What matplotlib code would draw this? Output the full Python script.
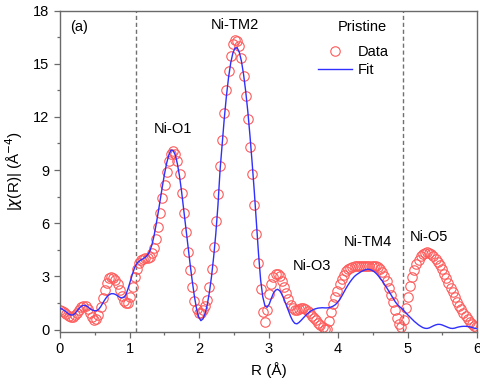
import numpy as np
import matplotlib
matplotlib.use("Agg")
import matplotlib.pyplot as plt
from matplotlib.ticker import MultipleLocator

plt.rcParams['font.family'] = ['Liberation Sans', 'DejaVu Sans']

# R grid step of the Fourier transform (Å)
dR = 0.0307
n_points = 196

data_chi = [
    1.10, 1.05, 0.97, 0.87, 0.78, 0.72, 0.72, 0.80, 0.95, 1.12,
    1.27, 1.35, 1.32, 1.18, 0.95, 0.70, 0.55, 0.58, 0.82, 1.25,
    1.75, 2.25, 2.65, 2.88, 2.97, 2.93, 2.78, 2.55, 2.25, 1.90,
    1.62, 1.47, 1.50, 1.85, 2.40, 2.95, 3.40, 3.75, 3.92, 4.00,
    4.02, 4.02, 4.10, 4.30, 4.60, 5.10, 5.80, 6.60, 7.40, 8.15,
    8.90, 9.50, 9.93, 10.08, 9.92, 9.50, 8.75, 7.70, 6.60, 5.50,
    4.40, 3.35, 2.40, 1.60, 1.15, 0.95, 0.95, 1.10, 1.30, 1.65,
    2.40, 3.40, 4.65, 6.10, 7.65, 9.20, 10.70, 12.20, 13.50, 14.60,
    15.45, 16.10, 16.35, 16.30, 16.00, 15.30, 14.30, 13.20, 11.85, 10.30,
    8.75, 7.00, 5.40, 3.75, 2.30, 1.00, 0.40, 1.10, 2.00, 2.55,
    2.95, 3.15, 3.15, 3.00, 2.75, 2.40, 2.05, 1.70, 1.40, 1.20,
    1.10, 1.10, 1.15, 1.20, 1.20, 1.15, 1.05, 0.92, 0.78, 0.65,
    0.52, 0.38, 0.25, 0.14, 0.05, 0.02, 0.50, 1.00, 1.45, 1.85,
    2.20, 2.55, 2.85, 3.10, 3.28, 3.40, 3.48, 3.53, 3.57, 3.59,
    3.60, 3.60, 3.60, 3.60, 3.60, 3.60, 3.60, 3.59, 3.56, 3.50,
    3.40, 3.25, 3.02, 2.72, 2.35, 1.95, 1.55, 1.10, 0.65, 0.30,
    0.12, 0.55, 1.20, 1.85, 2.45, 2.95, 3.35, 3.70, 3.95, 4.15,
    4.27, 4.33, 4.35, 4.33, 4.26, 4.15, 4.00, 3.82, 3.62, 3.40,
    3.15, 2.90, 2.63, 2.37, 2.10, 1.83, 1.58, 1.35, 1.13, 0.93,
    0.75, 0.58, 0.44, 0.32, 0.22, 0.15,
]

fit_chi = [
    1.20, 1.15, 1.07, 0.98, 0.88, 0.82, 0.82, 0.90, 1.05, 1.20,
    1.32, 1.37, 1.35, 1.28, 1.18, 1.10, 1.06, 1.06, 1.12, 1.28,
    1.48, 1.68, 1.85, 1.96, 2.02, 2.02, 1.98, 1.90, 1.82, 1.78,
    1.82, 2.00, 2.35, 2.75, 3.15, 3.50, 3.72, 3.85, 3.93, 4.00,
    4.08, 4.20, 4.40, 4.75, 5.25, 5.90, 6.60, 7.35, 8.10, 8.80,
    9.40, 9.85, 10.12, 10.10, 9.85, 9.35, 8.65, 7.75, 6.75, 5.70,
    4.65, 3.65, 2.70, 1.85, 1.15, 0.70, 0.50, 0.60, 0.90, 1.40,
    2.10, 3.00, 4.10, 5.40, 7.00, 9.00, 10.50, 11.95, 13.20, 14.25,
    15.05, 15.60, 15.88, 15.90, 15.65, 15.15, 14.40, 13.45, 12.30, 10.95,
    9.45, 7.85, 6.10, 4.30, 2.80, 1.85, 1.35, 1.25, 1.42, 1.75,
    2.05, 2.22, 2.27, 2.18, 1.98, 1.70, 1.38, 1.05, 0.75, 0.50,
    0.35, 0.32, 0.40, 0.52, 0.65, 0.78, 0.90, 1.00, 1.08, 1.14,
    1.18, 1.21, 1.22, 1.23, 1.22, 1.22, 1.23, 1.27, 1.32, 1.40,
    1.52, 1.68, 1.88, 2.10, 2.32, 2.52, 2.70, 2.86, 3.00, 3.10,
    3.18, 3.26, 3.32, 3.37, 3.40, 3.39, 3.35, 3.28, 3.18, 3.05,
    2.90, 2.74, 2.56, 2.37, 2.18, 1.98, 1.78, 1.58, 1.42, 1.30,
    1.20, 1.08, 0.95, 0.82, 0.70, 0.58, 0.46, 0.36, 0.26, 0.18,
    0.11, 0.07, 0.06, 0.09, 0.15, 0.21, 0.26, 0.29, 0.29, 0.26,
    0.21, 0.16, 0.11, 0.07, 0.06, 0.08, 0.12, 0.15, 0.17, 0.18,
    0.18, 0.17, 0.15, 0.12, 0.08, 0.05,
]

shell_bounds = [1.10, 4.93]
shell_labels = ["Ni-O1", "Ni-TM2", "Ni-O3", "Ni-TM4", "Ni-O5"]
shell_label_pos = [(1.63, 11.3), (2.51, 17.2), (3.62, 3.6), (4.43, 4.95), (5.31, 5.2)]

R = np.arange(n_points) * dR

fig = plt.figure(figsize=(4.8, 3.89), dpi=100)
ax = fig.add_axes([0.125, 0.147, 0.869, 0.826])

spine_col = '#6a6a6a'
for b in shell_bounds:
    ax.axvline(b, color='#707070', lw=1.0, ls=(0, (3, 2)), zorder=1)

ax.plot(R, data_chi, ls='none', marker='o', ms=6.8, mfc='none',
        mec='#ff5a5a', mew=0.8, label='Data', zorder=2)
ax.plot(R, fit_chi, color='#2f2fff', lw=1.0, label='Fit', zorder=3)

ax.set_xlim(0, 6)
ax.set_ylim(-0.13, 18)
ax.xaxis.set_major_locator(MultipleLocator(1))
ax.xaxis.set_minor_locator(MultipleLocator(0.5))
ax.yaxis.set_major_locator(MultipleLocator(3))
ax.yaxis.set_minor_locator(MultipleLocator(1.5))
ax.tick_params(which='both', direction='out', colors=spine_col, labelcolor='black',
               labelsize=10.5, top=False, right=False)
ax.tick_params(which='major', length=4, width=0.9)
ax.tick_params(which='minor', length=2.5, width=0.9)
for s in ax.spines.values():
    s.set_color(spine_col)
    s.set_linewidth(1.0)

ax.set_xlabel('R (Å)', fontsize=11)
ax.set_ylabel(r'|$\chi$(R)| (Å$^{-4}$)', fontsize=11, labelpad=6)

ax.text(0.27, 17.05, '(a)', fontsize=10.5, ha='center', va='center')
ax.text(4.35, 17.05, 'Pristine', fontsize=10.5, ha='center', va='center')
for lab, (x, y) in zip(shell_labels, shell_label_pos):
    ax.text(x, y, lab, fontsize=10.5, ha='center', va='center')

leg = ax.legend(loc='upper left', bbox_to_anchor=(0.605, 0.91), frameon=False,
                fontsize=10.5, handlelength=2.3, handletextpad=0.4,
                labelspacing=0.25, borderaxespad=0)

fig.savefig('out.png', dpi=100)
